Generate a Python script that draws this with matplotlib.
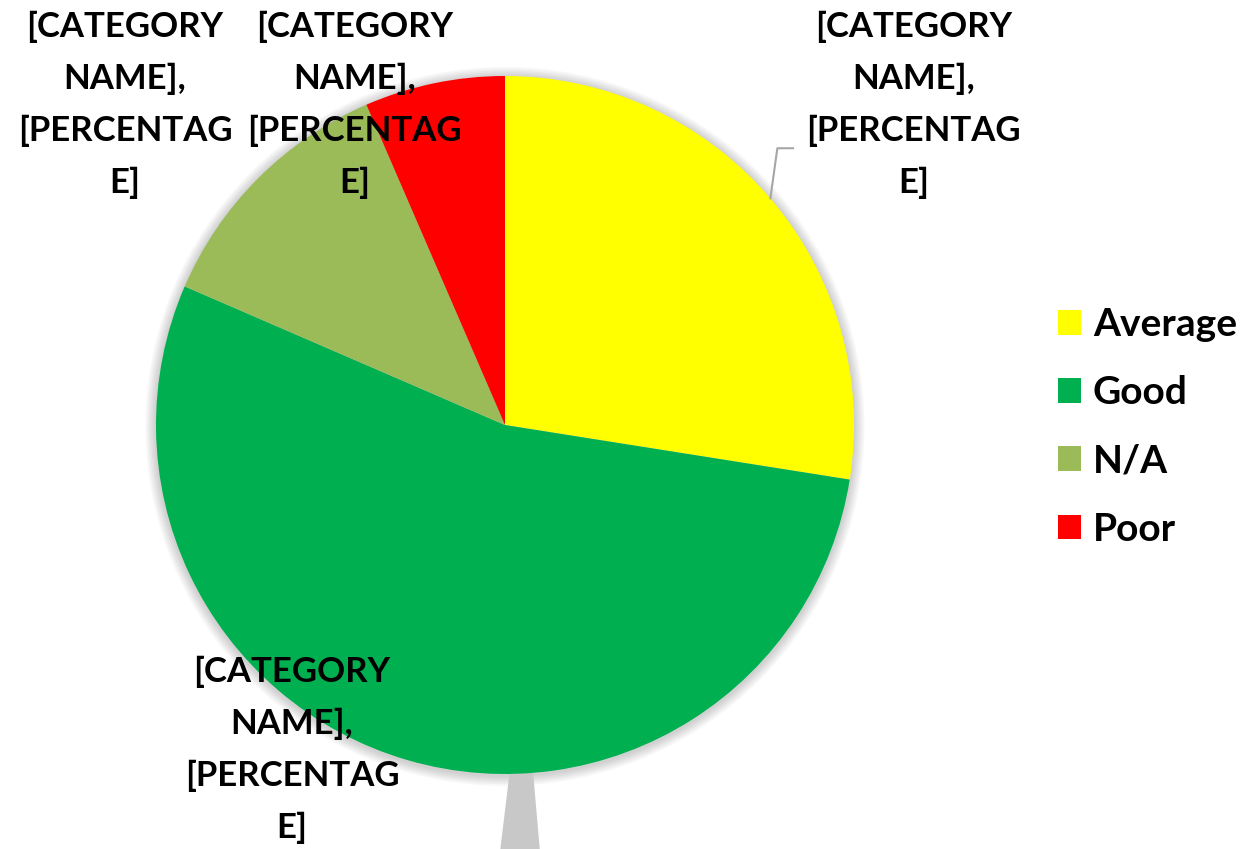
import numpy as np
import matplotlib

matplotlib.use("Agg")
import matplotlib.pyplot as plt
from matplotlib.patches import Circle, Polygon

categories = ["Average", "Good", "N/A", "Poor"]
shares = [27.5, 54.0, 12.0, 6.5]
colors = ["#FFFF00", "#00B050", "#9BBB59", "#FF0000"]
label_text = "[CATEGORY\nNAME],\n[PERCENTAG\nE]"
# label centres in data units (pie radius = 1)
label_pos = {
    "Average": (1.17, 0.917),
    "Good": (-0.61, -0.93),
    "N/A": (-1.089, 0.917),
    "Poor": (-0.43, 0.917),
}

plt.rcParams["font.family"] = ["Lato", "DejaVu Sans"]

W, H = 1243, 849
fig = plt.figure(figsize=(W / 100, H / 100), dpi=100)
cx, cy, r = 505, 424, 349
ax = fig.add_axes([(cx - r) / W, (cy - r) / H, 2 * r / W, 2 * r / H])

# faint soft shadow round the pie
for k in range(6):
    ax.add_patch(Circle((0.0, -0.004), 1.0 + 0.005 * (k + 1), color="#000000",
                        alpha=0.03, lw=0, zorder=0, clip_on=False))

wedges, _ = ax.pie(shares, colors=colors, startangle=90, counterclock=False,
                   radius=1.0, wedgeprops=dict(linewidth=0))
for w in wedges:
    w.set_zorder(2)
ax.set_xlim(-1, 1)
ax.set_ylim(-1, 1)
ax.set_aspect("equal")
ax.axis("off")

font = dict(fontsize=25, fontweight="bold", color="black", ha="center",
            va="center", multialignment="center", linespacing=1.75, zorder=5)
for name, w in zip(categories, wedges):
    x, y = label_pos[name]
    ax.text(x, y, label_text, clip_on=False, **font)

# leader line for the "Average" label
w = wedges[0]
mid = np.deg2rad((w.theta1 + w.theta2) / 2)
ex, ey = np.cos(mid), np.sin(mid)
ax.plot([ex, ex + 0.02, ex + 0.065], [ey, 0.793, 0.793], color="#A6A6A6",
        lw=1.5, clip_on=False, zorder=4)

# wide grey leader under the "Good" slice
ax.add_patch(Polygon([(0.014, -0.99), (0.08, -0.99), (0.10, -1.22), (-0.014, -1.22)],
                     closed=True, color="#C8C8C8", lw=0, clip_on=False, zorder=1))

ax.legend(wedges, categories, loc="center left", bbox_to_anchor=(1058 / W, 422 / H),
          bbox_transform=fig.transFigure, frameon=False,
          prop=dict(weight="bold", size=28), handlelength=0.6, handleheight=0.6,
          handletextpad=0.3, labelspacing=0.85, borderaxespad=0, borderpad=0)

fig.savefig("out.png", dpi=100)
